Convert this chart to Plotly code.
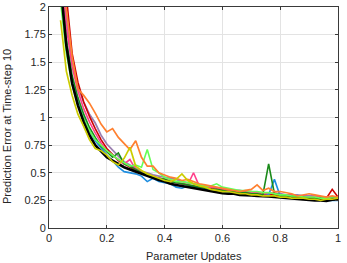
import plotly.graph_objects as go

x = [0.04, 0.06, 0.08, 0.10, 0.12, 0.14, 0.16, 0.18, 0.20, 0.22, 0.24, 0.26, 0.28, 0.30, 0.32, 0.34,
     0.36, 0.38, 0.40, 0.42, 0.44, 0.46, 0.48, 0.50, 0.52, 0.54, 0.56, 0.58, 0.60, 0.62, 0.64, 0.66,
     0.68, 0.70, 0.72, 0.74, 0.76, 0.78, 0.80, 0.82, 0.84, 0.86, 0.88, 0.90, 0.92, 0.94, 0.96, 0.98, 1.00]

black = [2.2, 1.65, 1.31, 1.11, 0.96, 0.84, 0.75, 0.69, 0.64, 0.61, 0.58, 0.55, 0.53, 0.51, 0.49, 0.47,
         0.45, 0.435, 0.42, 0.40, 0.39, 0.38, 0.37, 0.36, 0.35, 0.34, 0.33, 0.32, 0.315, 0.31, 0.31, 0.30,
         0.30, 0.295, 0.29, 0.29, 0.285, 0.28, 0.275, 0.27, 0.27, 0.265, 0.26, 0.255, 0.25, 0.25, 0.245, 0.255, 0.26]
orange = [2.6, 1.98, 1.55, 1.26, 1.20, 1.13, 1.04, 0.94, 0.87, 0.90, 0.82, 0.76, 0.71, 0.79, 0.64, 0.56,
          0.56, 0.50, 0.48, 0.46, 0.45, 0.43, 0.44, 0.42, 0.40, 0.39, 0.38, 0.37, 0.36, 0.35, 0.34, 0.33,
          0.34, 0.35, 0.39, 0.34, 0.36, 0.33, 0.33, 0.32, 0.31, 0.29, 0.30, 0.31, 0.30, 0.29, 0.28, 0.29, 0.28]
yellow = [1.88, 1.42, 1.20, 1.03, 0.92, 0.80, 0.72, 0.70, 0.66, 0.60, 0.57, 0.63, 0.73, 0.56, 0.52, 0.49,
          0.47, 0.45, 0.43, 0.42, 0.44, 0.49, 0.43, 0.40, 0.38, 0.37, 0.35, 0.34, 0.33, 0.33, 0.32, 0.31,
          0.31, 0.30, 0.30, 0.29, 0.29, 0.29, 0.28, 0.28, 0.27, 0.27, 0.27, 0.26, 0.26, 0.25, 0.26, 0.26, 0.27]
lightgreen = [2.05, 1.58, 1.30, 1.12, 0.99, 0.88, 0.80, 0.75, 0.70, 0.66, 0.62, 0.59, 0.56, 0.57, 0.55, 0.71,
              0.53, 0.50, 0.46, 0.44, 0.42, 0.42, 0.41, 0.40, 0.39, 0.38, 0.38, 0.40, 0.37, 0.36, 0.35, 0.34,
              0.34, 0.33, 0.33, 0.32, 0.32, 0.31, 0.30, 0.30, 0.29, 0.29, 0.28, 0.28, 0.28, 0.27, 0.27, 0.27, 0.27]
darkgreen = [2.2, 1.70, 1.38, 1.18, 1.03, 0.91, 0.82, 0.74, 0.69, 0.64, 0.68, 0.58, 0.56, 0.53, 0.50, 0.48,
             0.46, 0.45, 0.44, 0.42, 0.41, 0.40, 0.39, 0.38, 0.37, 0.36, 0.35, 0.35, 0.34, 0.33, 0.33, 0.32,
             0.32, 0.31, 0.31, 0.30, 0.58, 0.31, 0.30, 0.29, 0.29, 0.28, 0.28, 0.27, 0.27, 0.27, 0.26, 0.27, 0.27]
blue = [2.1, 1.62, 1.33, 1.14, 1.00, 0.88, 0.79, 0.72, 0.66, 0.61, 0.55, 0.51, 0.50, 0.49, 0.47, 0.42,
        0.45, 0.42, 0.41, 0.40, 0.37, 0.36, 0.38, 0.37, 0.36, 0.35, 0.34, 0.33, 0.32, 0.32, 0.31, 0.30,
        0.31, 0.30, 0.29, 0.29, 0.30, 0.44, 0.29, 0.28, 0.28, 0.27, 0.27, 0.26, 0.27, 0.26, 0.25, 0.25, 0.25]
pink = [2.35, 1.82, 1.46, 1.24, 1.08, 0.96, 0.86, 0.77, 0.70, 0.66, 0.62, 0.58, 0.62, 0.53, 0.51, 0.48,
        0.47, 0.45, 0.44, 0.43, 0.41, 0.40, 0.39, 0.50, 0.38, 0.37, 0.37, 0.36, 0.35, 0.34, 0.34, 0.33,
        0.33, 0.32, 0.32, 0.31, 0.31, 0.32, 0.30, 0.30, 0.30, 0.29, 0.29, 0.28, 0.29, 0.28, 0.28, 0.28, 0.28]
red = [2.7, 2.10, 1.58, 1.32, 1.14, 1.01, 0.90, 0.80, 0.72, 0.66, 0.61, 0.58, 0.55, 0.52, 0.50, 0.48,
       0.46, 0.45, 0.44, 0.42, 0.41, 0.40, 0.39, 0.38, 0.37, 0.36, 0.36, 0.35, 0.34, 0.34, 0.33, 0.32,
       0.32, 0.31, 0.31, 0.30, 0.30, 0.30, 0.29, 0.29, 0.28, 0.28, 0.28, 0.27, 0.27, 0.27, 0.27, 0.35, 0.28]
purple = [2.45, 1.90, 1.52, 1.28, 1.14, 1.03, 0.95, 0.84, 0.76, 0.70, 0.65, 0.60, 0.57, 0.54, 0.51, 0.50,
          0.48, 0.47, 0.46, 0.45, 0.44, 0.42, 0.41, 0.40, 0.39, 0.38, 0.37, 0.36, 0.36, 0.35, 0.34, 0.34,
          0.33, 0.33, 0.32, 0.32, 0.31, 0.31, 0.31, 0.30, 0.30, 0.30, 0.29, 0.29, 0.29, 0.28, 0.28, 0.28, 0.28]

series = [
    ("purple", purple, "#9b7fb0", 1.8),
    ("red", red, "#cc0000", 1.6),
    ("pink", pink, "#ff3f8a", 1.6),
    ("blue", blue, "#1f8ee0", 1.6),
    ("darkgreen", darkgreen, "#1a8a1a", 1.6),
    ("lightgreen", lightgreen, "#66ff55", 1.6),
    ("orange", orange, "#ff8030", 1.7),
    ("black", black, "#000000", 2.6),
    ("yellow", yellow, "#cccc00", 1.7),
]

fig = go.Figure()
for name, ys, color, w in series:
    fig.add_trace(go.Scatter(x=x, y=ys, mode="lines", name=name,
                             line=dict(color=color, width=w), showlegend=False))

FONT = "Liberation Sans, Arial, sans-serif"
axis_common = dict(
    showline=True, linecolor="#3a3a3a", linewidth=1, mirror="ticks",
    ticks="inside", ticklen=3, tickcolor="#3a3a3a",
    showgrid=True, gridcolor="#e3e3e3", gridwidth=1,
    zeroline=False, automargin=False,
    tickfont=dict(family=FONT, size=11, color="#262626"),
)

fig.update_xaxes(range=[0, 1], tickvals=[0, 0.2, 0.4, 0.6, 0.8, 1],
                 ticktext=["0", "0.2", "0.4", "0.6", "0.8", "1"], **axis_common)
fig.update_yaxes(range=[0, 2], tickvals=[0, 0.25, 0.5, 0.75, 1, 1.25, 1.5, 1.75, 2],
                 ticktext=["0", "0.25", "0.5", "0.75", "1", "1.25", "1.5", "1.75", "2"], **axis_common)

fig.add_annotation(text="Parameter Updates", xref="paper", yref="paper",
                   x=0.5, y=-0.127, xanchor="center", yanchor="middle", showarrow=False,
                   font=dict(family=FONT, size=11, color="#262626"))
fig.add_annotation(text="Prediction Error at Time-step 10", xref="paper", yref="paper",
                   x=-0.145, y=0.457, xanchor="center", yanchor="middle", showarrow=False,
                   textangle=-90, font=dict(family=FONT, size=11, color="#262626"))

fig.update_layout(
    width=347, height=263,
    margin=dict(l=49, r=9, t=7, b=35),
    plot_bgcolor="white", paper_bgcolor="white",
)

fig.write_html("out.html", config={"displayModeBar": False},
               post_script="document.body.style.margin='0';document.body.style.overflow='hidden';")
